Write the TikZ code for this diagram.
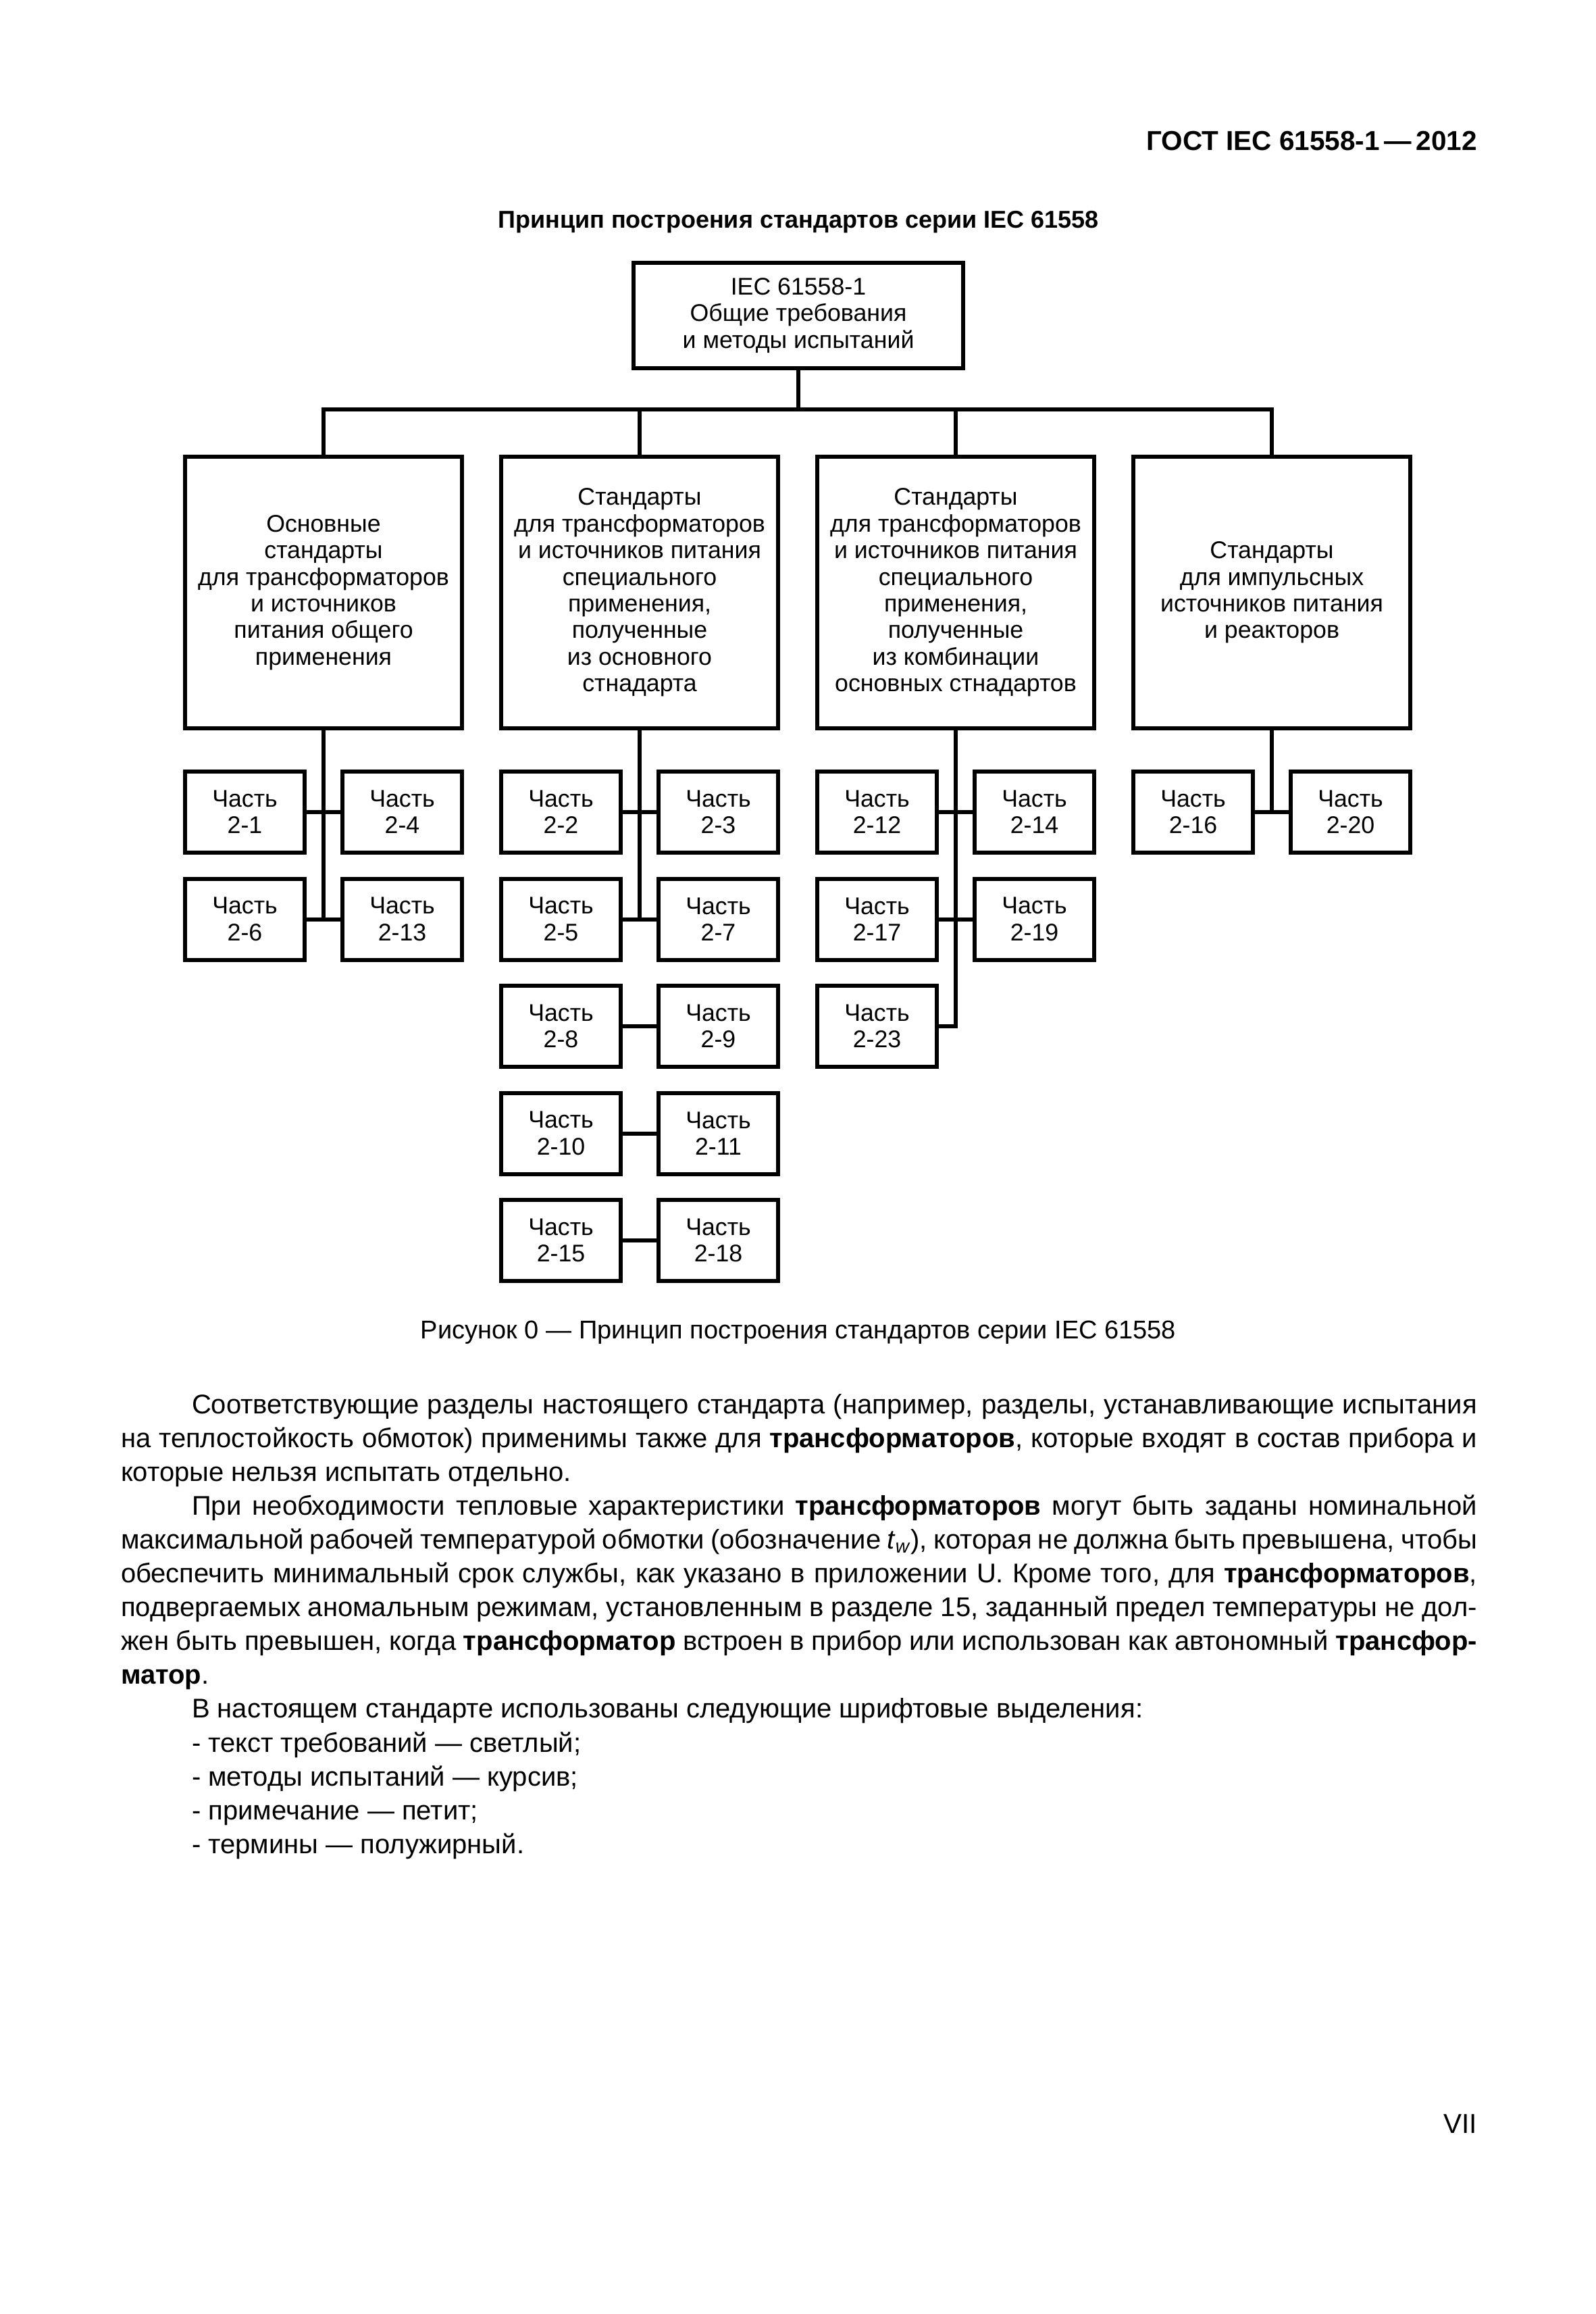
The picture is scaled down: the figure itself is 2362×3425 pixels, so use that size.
\documentclass[tikz,border=0pt]{standalone}
\usepackage{fontspec}
\setmainfont{Liberation Sans}
\newcommand\justline[2]{\hbox to #1pt{#2}}
\begin{document}
\begin{tikzpicture}[x=1pt,y=-1pt,
  every node/.style={inner sep=0pt, outer sep=0pt},
  conn/.style={line width=6pt, line join=miter},
  dfont/.style={font=\fontsize{35.7}{39.4}\selectfont},
  topbox/.style={draw, line width=6pt, dfont, align=center, minimum width=488pt, minimum height=156pt},
  groupbox/.style={draw, line width=6pt, dfont, align=center, minimum width=410pt, minimum height=402pt},
  partbox/.style={draw, line width=6pt, dfont, align=center, minimum width=177pt, minimum height=120pt},
  body/.style={anchor=base west, font=\fontsize{40}{50.1}\selectfont},
]
\useasboundingbox[fill=white] (0,0) rectangle (2362,3425);

% header and title
\node[anchor=base east, font=\bfseries\fontsize{40.5}{48}\selectfont] (hdr) at (2187,223) {ГОСТ IEC 61558-1\,—\,2012};
\node[anchor=base, font=\bfseries\fontsize{36}{43}\selectfont] (ttl) at (1182,337) {Принцип построения стандартов серии IEC 61558};

% top box
\node[topbox] (top) at (1182,467) {IEC 61558-1\\Общие требования\\и методы испытаний};
\coordinate (busL) at (479,606);
\coordinate (busR) at (1883,606);

% group boxes
\node[groupbox] (g1) at (479,877) {Основные\\стандарты\\для трансформаторов\\и источников\\питания общего\\применения};
\node[groupbox] (g2) at (947,877) {Стандарты\\для трансформаторов\\и источников питания\\специального\\применения,\\полученные\\из основного\\стнадарта};
\node[groupbox] (g3) at (1415,877) {Стандарты\\для трансформаторов\\и источников питания\\специального\\применения,\\полученные\\из комбинации\\основных стнадартов};
\node[groupbox] (g4) at (1883,877) {Стандарты\\для импульсных\\источников питания\\и реакторов};

% part boxes column 1
\node[partbox] (p21)  at (362.5,1202)   {Часть\\2-1};
\node[partbox] (p24)  at (595.5,1202)   {Часть\\2-4};
\node[partbox] (p26)  at (362.5,1360.5) {Часть\\2-6};
\node[partbox] (p213) at (595.5,1360.5) {Часть\\2-13};
% column 2
\node[partbox] (p22)  at (830.5,1202)   {Часть\\2-2};
\node[partbox] (p23)  at (1063.5,1202)  {Часть\\2-3};
\node[partbox] (p25)  at (830.5,1360.5) {Часть\\2-5};
\node[partbox] (p27)  at (1063.5,1360.5){Часть\\2-7};
\node[partbox] (p28)  at (830.5,1519)   {Часть\\2-8};
\node[partbox] (p29)  at (1063.5,1519)  {Часть\\2-9};
\node[partbox] (p210) at (830.5,1677.5) {Часть\\2-10};
\node[partbox] (p211) at (1063.5,1677.5){Часть\\2-11};
\node[partbox] (p215) at (830.5,1836)   {Часть\\2-15};
\node[partbox] (p218) at (1063.5,1836)  {Часть\\2-18};
% column 3
\node[partbox] (p212) at (1298.5,1202)   {Часть\\2-12};
\node[partbox] (p214) at (1531.5,1202)   {Часть\\2-14};
\node[partbox] (p217) at (1298.5,1360.5) {Часть\\2-17};
\node[partbox] (p219) at (1531.5,1360.5) {Часть\\2-19};
\node[partbox] (p223) at (1298.5,1519)   {Часть\\2-23};
% column 4
\node[partbox] (p216) at (1766.5,1202) {Часть\\2-16};
\node[partbox] (p220) at (1999.5,1202) {Часть\\2-20};

% connectors: top level
\draw[conn] (top.south) -- (top.south |- busL);
\draw[conn] (g1.north) -- (busL) -- (busR) -- (g4.north);
\draw[conn] (g2.north) -- (g2.north |- busL);
\draw[conn] (g3.north) -- (g3.north |- busL);

% column 1
\draw[conn] (g1.south) -- (g1.south |- p26.east);
\draw[conn] (p21.east) -- (p24.west);
\draw[conn] (p26.east) -- (p213.west);
% column 2
\draw[conn] (g2.south) -- (g2.south |- p25.east);
\draw[conn] (p22.east) -- (p23.west);
\draw[conn] (p25.east) -- (p27.west);
\draw[conn] (p28.east) -- (p29.west);
\draw[conn] (p210.east) -- (p211.west);
\draw[conn] (p215.east) -- (p218.west);
% column 3
\draw[conn] (g3.south) |- (p223.east);
\draw[conn] (p212.east) -- (p214.west);
\draw[conn] (p217.east) -- (p219.west);
% column 4
\draw[conn] (g4.south) -- (g4.south |- p216.east);
\draw[conn] (p216.east) -- (p220.west);

% caption
\node[anchor=base, font=\fontsize{38}{45}\selectfont] (cap) at (1182,1981) {Рисунок 0 — Принцип построения стандартов серии IEC 61558};

% body text
\node[body] (l1) at (284,2092) {\justline{1903}{Соответствующие разделы настоящего стандарта (например, разделы, устанавливающие испытания}};
\node[body] (l2) at (179,2142.1) {\justline{2008}{на теплостойкость обмоток) применимы также для \textbf{трансформаторов}, которые входят в состав прибора и}};
\node[body] (l3) at (179,2192.2) {которые нельзя испытать отдельно.};
\node[body] (l4) at (284,2242.3) {\justline{1903}{При необходимости тепловые характеристики \textbf{трансформаторов} могут быть заданы номинальной}};
\node[body] (l5) at (179,2292.4) {\justline{2008}{максимальной рабочей температурой обмотки (обозначение \textit{t}\textsubscript{\textit{w}}), которая не должна быть превышена, чтобы}};
\node[body] (l6) at (179,2342.5) {\justline{2008}{обеспечить минимальный срок службы, как указано в приложении U. Кроме того, для \textbf{трансформаторов},}};
\node[body] (l7) at (179,2392.6) {\justline{2008}{подвергаемых аномальным режимам, установленным в разделе 15, заданный предел температуры не дол-}};
\node[body] (l8) at (179,2442.7) {\justline{2008}{жен быть превышен, когда \textbf{трансформатор} встроен в прибор или использован как автономный \textbf{трансфор-}}};
\node[body] (l9) at (179,2492.8) {\textbf{матор}.};
\node[body] (l10) at (284,2542.9) {В настоящем стандарте использованы следующие шрифтовые выделения:};
\node[body] (l11) at (284,2593) {- текст требований — светлый;};
\node[body] (l12) at (284,2643.1) {- методы испытаний — курсив;};
\node[body] (l13) at (284,2693.2) {- примечание — петит;};
\node[body] (l14) at (284,2743.3) {- термины — полужирный.};

% page number
\node[anchor=base east, font=\fontsize{40.5}{48}\selectfont] (pg) at (2187,3157) {VII};
\end{tikzpicture}
\end{document}
